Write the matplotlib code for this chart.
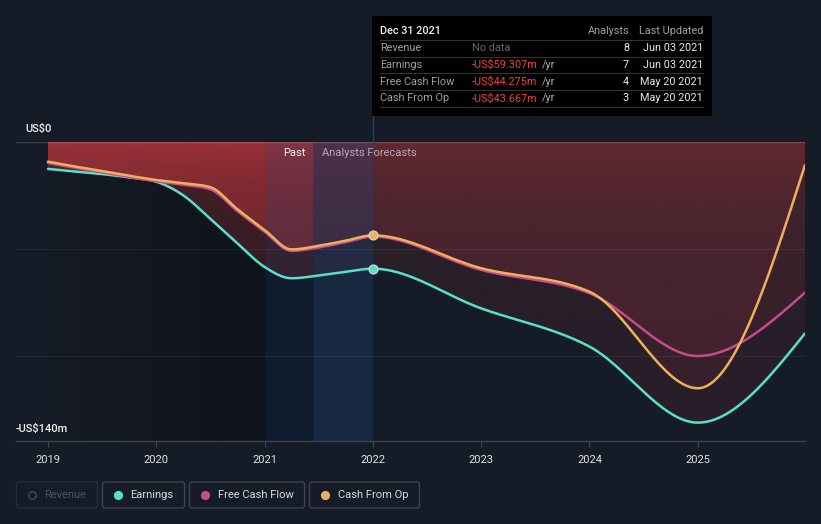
import numpy as np
import matplotlib.pyplot as plt
from matplotlib.patches import Rectangle, FancyBboxPatch, Polygon
from matplotlib.colors import to_rgb

plt.rcParams['font.family'] = ['Roboto', 'DejaVu Sans']

# data, US$ millions (past quarterly, forecasts at year end)
years = [2019.0, 2019.25, 2019.5, 2019.75, 2020.0, 2020.25, 2020.5, 2020.75,
         2021.0, 2021.25, 2021.5, 2021.75, 2022.0, 2023.0, 2024.0, 2025.0, 2025.99]
earnings = [-12.6, -13.8, -15.0, -16.6, -18.6, -25.0, -36.0, -47.5,
            -58.5, -63.8, -62.5, -60.8, -59.3, -77.9, -95.8, -131.4, -89.6]
fcf = [-9.8, -12.1, -14.2, -16.4, -18.4, -20.0, -22.2, -32.4,
       -42.0, -51.0, -49.4, -46.9, -44.3, -59.9, -70.8, -100.2, -70.5]
cfo = [-9.2, -11.5, -13.6, -15.8, -17.8, -19.3, -21.2, -31.5,
       -41.2, -50.3, -48.6, -46.2, -43.7, -59.1, -70.1, -115.3, -10.8]

series_names = ['Revenue', 'Earnings', 'Free Cash Flow', 'Cash From Op']
series_colors = ['#2a4a66', '#58e0c9', '#c74b8c', '#eeb05a']

tick_years = [2019, 2020, 2021, 2022, 2023, 2024, 2025]

tip_title = 'Dec 31 2021'
tip_rows = ['Revenue', 'Earnings', 'Free Cash Flow', 'Cash From Op']
tip_values = ['No data', '-US$59.307m', '-US$44.275m', '-US$43.667m']
tip_analysts = [8, 7, 4, 3]
tip_updated = ['Jun 03 2021', 'Jun 03 2021', 'May 20 2021', 'May 20 2021']

bg = '#161c27'
W, H = 821, 524
x_lo, x_hi = 2018.705, 2025.99
split = 2021.45   # past / forecast label split
now = 2022.0


def monotone(x, y, n=40):
    # d3 style monotoneX curve, only for drawing
    x = np.asarray(x, float)
    y = np.asarray(y, float)
    h = np.diff(x)
    s = np.diff(y) / h
    t = np.zeros_like(y)
    for i in range(1, len(x) - 1):
        p = (s[i - 1] * h[i] + s[i] * h[i - 1]) / (h[i - 1] + h[i])
        t[i] = (np.sign(s[i - 1]) + np.sign(s[i])) * min(abs(s[i - 1]), abs(s[i]), 0.5 * abs(p))
    t[0] = (3 * s[0] - t[1]) / 2
    t[-1] = (3 * s[-1] - t[-2]) / 2
    xs, ys = [], []
    for i in range(len(h)):
        u = np.linspace(0, 1, n, endpoint=(i == len(h) - 1))
        h00 = 2 * u**3 - 3 * u**2 + 1
        h10 = u**3 - 2 * u**2 + u
        h01 = -2 * u**3 + 3 * u**2
        h11 = u**3 - u**2
        xs.append(x[i] + u * h[i])
        ys.append(h00 * y[i] + h10 * h[i] * t[i] + h01 * y[i + 1] + h11 * h[i] * t[i + 1])
    return np.concatenate(xs), np.concatenate(ys)


fig = plt.figure(figsize=(W / 100, H / 100), dpi=100, facecolor=bg)
ax = fig.add_axes([16 / W, 1 - 441 / H, 789 / W, 299 / H])
ax.set_facecolor(bg)

# dark shading of the past
gx = np.linspace(0, 1, 200)
dark = np.zeros((2, 200, 4))
dark[..., 3] = 0.05 + 0.32 * gx
ax.imshow(dark, extent=[2019, split, -140, 0], origin='lower', aspect='auto',
          zorder=0.5, interpolation='bilinear')

# red gradient fills from zero down to each line
red = to_rgb('#c83a40')
GX, GY = np.meshgrid(np.linspace(2019, 2025.99, 600), np.linspace(-140, 0, 300))
alpha = np.where(GX < split, 0.37, 0.18) * (0.55 + 0.45 * np.exp(GY / 25))
img = np.zeros(GX.shape + (4,))
img[..., :3] = red
img[..., 3] = alpha

curves = []
for vals in [earnings, fcf, cfo]:
    xs, ys = monotone(years, vals)
    curves.append((xs, ys))
    poly = Polygon(np.column_stack([np.r_[xs[0], xs, xs[-1]], np.r_[0, ys, 0]]),
                   closed=True, facecolor='none', edgecolor='none')
    ax.add_patch(poly)
    im = ax.imshow(img, extent=[2019, 2025.99, -140, 0], origin='lower', aspect='auto',
                   zorder=1, interpolation='bilinear')
    im.set_clip_path(poly)

# past highlight bands
ax.add_patch(Rectangle((2021.0, -140), split - 2021.0, 140, facecolor='#1a4a8a',
                       alpha=0.18, edgecolor='none', zorder=2))
ax.add_patch(Rectangle((split, -140), now - split, 140, facecolor='#1a4a8a',
                       alpha=0.27, edgecolor='none', zorder=2))

# grid
ax.axhline(0, color='white', alpha=0.16, lw=1, zorder=3)
for g in [-50, -100]:
    ax.axhline(g, color='white', alpha=0.07, lw=0.8, zorder=3)

# lines
for (xs, ys), c in zip(curves, series_colors[1:]):
    ax.plot(xs, ys, color=c, lw=1.8, zorder=4, solid_capstyle='round')
for vals, c in zip([cfo, earnings], [series_colors[3], series_colors[1]]):
    ax.plot(now, vals[years.index(now)], 'o', ms=6.5, mfc=c, mec='#d8d8e0', mew=0.8, zorder=5)

ax.set_xlim(x_lo, x_hi)
ax.set_ylim(-140, 0)
for side in ['top', 'left', 'right']:
    ax.spines[side].set_visible(False)
ax.spines['bottom'].set_color('#3d424c')
ax.spines['bottom'].set_linewidth(1)
ax.set_yticks([])
ax.set_xticks(tick_years)
ax.set_xticklabels([str(y) for y in tick_years])
ax.tick_params(axis='x', direction='out', length=4, color='#3d424c', labelcolor='#e0e3e8',
               labelsize=8, pad=6)

# overlay in pixel coordinates for labels, tooltip and legend
ov = fig.add_axes([0, 0, 1, 1])
ov.set_xlim(0, W)
ov.set_ylim(H, 0)
ov.axis('off')

ov.text(25, 129, 'US$0', color='#f0f0f0', fontsize=8, fontweight='medium', va='center')
ov.text(16, 429, '-US$140m', color='#f0f0f0', fontsize=8, fontweight='medium', va='center')
ov.text(306, 153, 'Past', color='#f2f2f2', fontsize=8, ha='right', va='center')
ov.text(322, 153, 'Analysts Forecasts', color='#b4a8bc', fontsize=8, ha='left', va='center')
ov.plot([372.5, 372.5], [116, 142], color='#1f3d66', lw=1)

# tooltip
ov.add_patch(Rectangle((372, 16), 340, 100, facecolor='black', edgecolor='none'))
fs = 7.8
ov.text(380, 31, tip_title, color='#f2f2f2', fontsize=fs, fontweight='medium', va='center')
ov.text(629, 31, 'Analysts', color='#a0a0a0', fontsize=fs, ha='right', va='center')
ov.text(703, 31, 'Last Updated', color='#a0a0a0', fontsize=fs, ha='right', va='center')
ov.plot([380, 703], [40, 40], color='#333333', lw=0.8)
for i, (lab, val, n, upd) in enumerate(zip(tip_rows, tip_values, tip_analysts, tip_updated)):
    yy = 48.3 + i * 16.7
    ov.text(380, yy, lab, color='#a0a0a0', fontsize=fs, va='center')
    if val == 'No data':
        ov.text(472, yy, val, color='#666666', fontsize=fs, va='center')
    else:
        ov.text(472, yy, val, color='#f04040', fontsize=fs, va='center')
        ov.text(542, yy, '/yr', color='#b0b0b0', fontsize=fs, va='center')
    ov.text(629, yy, str(n), color='#e8e8e8', fontsize=fs, ha='right', va='center')
    ov.text(703, yy, upd, color='#e8e8e8', fontsize=fs, ha='right', va='center')
    ov.plot([380, 703], [yy + 8.4, yy + 8.4], color='#333333', lw=0.8)

# legend
boxes = [(16.5, 97.5), (102.5, 184.5), (189.5, 304.5), (309.5, 419.5)]
for i, (name, c, (bx0, bx1)) in enumerate(zip(series_names, series_colors, boxes)):
    dim = i == 0
    ov.add_patch(FancyBboxPatch((bx0, 482), bx1 - bx0, 26,
                                boxstyle='round,pad=0,rounding_size=2.5',
                                facecolor='none', edgecolor='#262c36' if dim else '#3e434d',
                                lw=1))
    if dim:
        ov.plot(bx0 + 15.3, 495, 'o', ms=5.3, mfc='none', mec=c, mew=1.2)
    else:
        ov.plot(bx0 + 15.3, 495, 'o', ms=5.6, mfc=c, mec=c)
    ov.text(bx0 + 28, 495, name, color='#4a5260' if dim else '#d8dbe0', fontsize=8, va='center')

fig.savefig('out.png', dpi=100, facecolor=bg)
